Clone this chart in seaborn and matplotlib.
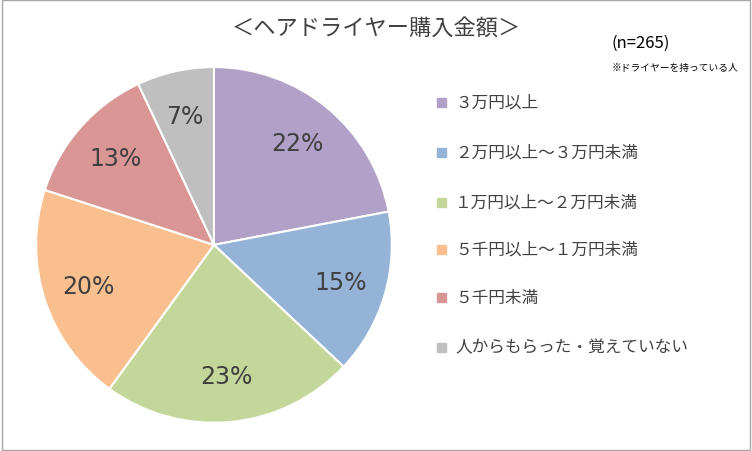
import matplotlib
matplotlib.use("Agg")
import matplotlib.pyplot as plt
import seaborn as sns
from matplotlib.patches import Rectangle

sns.set_theme(style="white", font="Noto Sans CJK JP")

categories = ["３万円以上", "２万円以上～３万円未満", "１万円以上～２万円未満",
              "５千円以上～１万円未満", "５千円未満", "人からもらった・覚えていない"]
values = [22, 15, 23, 20, 13, 7]
colors = sns.color_palette(["#B1A0C7", "#95B3D7", "#C4D79B", "#FABF8F", "#DA9694", "#BFBFBF"])

fig = plt.figure(figsize=(7.52, 4.52), dpi=100)
fig.patches.append(Rectangle((0.002, 0.003), 0.996, 0.994, transform=fig.transFigure,
                             fill=False, edgecolor="#A6A6A6", linewidth=1))
ax = fig.add_axes([0.048, 0.062, 0.473, 0.788])
wedges, texts, autotexts = ax.pie(values, colors=colors, startangle=90, counterclock=False,
                                  autopct="%d%%", pctdistance=0.74,
                                  wedgeprops=dict(edgecolor="white", linewidth=1.5),
                                  textprops=dict(fontsize=17, color="#404040", family="DejaVu Sans"))
ax.set_xlim(-1, 1)
ax.set_ylim(-1, 1)
ax.set_aspect("equal")

fig.text(0.5, 0.935, "＜ヘアドライヤー購入金額＞", ha="center", va="center", fontsize=16, color="#404040")
fig.text(0.852, 0.905, "(n=265)", ha="center", va="center", fontsize=12, color="#000000")
fig.text(0.898, 0.85, "※ドライヤーを持っている人", ha="center", va="center", fontsize=7, color="#000000")

ys = [103, 153, 203, 250, 298, 348]
for c, lab, y in zip(colors, categories, ys):
    yf = 1 - y / 452
    fig.patches.append(Rectangle((437 / 752, yf - 0.012), 9 / 752, 9 / 452,
                                 transform=fig.transFigure, color=c))
    fig.text(455 / 752, yf, lab, va="center", ha="left", fontsize=12, color="#404040")

fig.savefig("out.png", dpi=100)
